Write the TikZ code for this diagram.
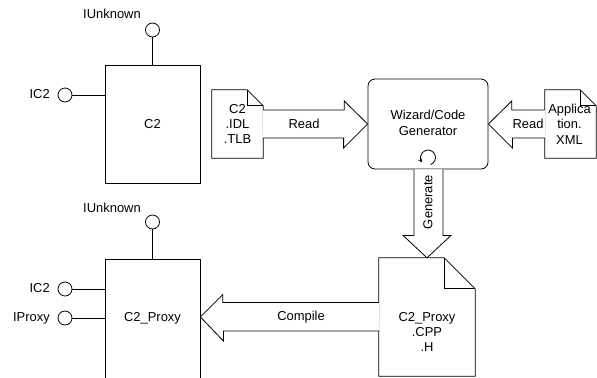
\documentclass[tikz,border=0pt]{standalone}
\usepackage{fontspec}
\setmainfont{Liberation Sans}
\usetikzlibrary{calc}
\begin{document}
\begin{tikzpicture}[x=1bp,y=-1bp,
  font=\fontsize{13}{15.5}\selectfont,
  line/.style={draw=black, line width=0.8bp},
  comp/.style={line, rectangle, minimum width=95bp, minimum height=118bp, inner sep=0},
  lolli/.style={line, circle, minimum size=14bp, inner sep=0},
  docbox/.style={rectangle, inner sep=0},
  blockarrow/.style={line, fill=white, line join=miter},
  lbl/.style={inner sep=0, align=center}]
\useasboundingbox (0,0) rectangle (597,377);
\clip (0,0) rectangle (597,377);

% --- component C2 with its interfaces
\node[comp] (c2) at (152.5,124) {C2};
\node[lolli] (c2u) at (152.5,30) {};
\node[lbl] (c2ulbl) at (112,14) {IUnknown};
\node[lolli] (c2i) at (65,95) {};
\node[lbl, anchor=east] (c2ilbl) at (50,94) {IC2};
\draw[line] (c2u) -- (c2u |- c2.north);
\draw[line] (c2i) -- (c2i -| c2.west);

% --- component C2_Proxy (runs past the lower edge)
\node[comp, minimum height=140bp] (c2p) at (152.5,329) {};
\node[lbl] (c2plbl) at (152.5,318) {C2\_Proxy};
\node[lolli] (c2pu) at (152.5,222) {};
\node[lbl] (c2pulbl) at (112,208) {IUnknown};
\node[lolli] (c2pi) at (65,289) {};
\node[lbl, anchor=east] (c2pilbl) at (50,288) {IC2};
\node[lolli] (c2pp) at (65,318) {};
\node[lbl, anchor=east] (c2pplbl) at (50,318) {IProxy};
\draw[line] (c2pu) -- (c2pu |- c2p.north);
\draw[line] (c2pi) -- (c2pi -| c2p.west);
\draw[line] (c2pp) -- (c2pp -| c2p.west);

% --- generator
\node[line, rectangle, rounded corners=7bp, minimum width=120bp, minimum height=90bp,
      inner sep=0] (wiz) at (428,124) {};
\node[lbl] (wizlbl) at (428,123) {Wizard/Code\\Generator};
\draw[line, ->, >={stealth}] (428,157.5) ++(70:7.5) arc[start angle=70, end angle=-220, radius=7.5];

% --- documents (outline with folded corner)
\node[docbox, minimum width=51bp, minimum height=68bp] (doc1) at (237.5,124) {};
\node[docbox, minimum width=51bp, minimum height=68bp] (doc2) at (570.5,124) {};
\node[docbox, minimum width=96bp, minimum height=118bp] (doc3) at (427,317) {};
\foreach \d/\f in {doc1/16, doc2/16, doc3/31}{
  \draw[line, fill=white] (\d.north west) -- ([xshift=-\f bp]\d.north east)
     -- ([yshift=-\f bp]\d.north east) -- (\d.south east) -- (\d.south west) -- cycle;
  \draw[line] ([xshift=-\f bp]\d.north east) -- ([xshift=-\f bp,yshift=-\f bp]\d.north east)
     -- ([yshift=-\f bp]\d.north east);
}
\node[lbl] (doc1lbl) at (doc1) {C2\\.IDL\\.TLB};
\node[lbl] (doc2lbl) at ([xshift=-1bp]doc2.center) {Applica\\tion.\\XML};
\node[lbl] (doc3lbl) at (427,332) {C2\_Proxy\\.CPP\\.H};

% --- block arrows
\draw[blockarrow] ([yshift=14bp]doc1.east) -- ++(81,0) -- ++(0,-9) -- (wiz.west)
   -- ++(-24,24) -- ++(0,-10) -- ++(-81,0);
\node[lbl] (read1) at (304,124) {Read};

\draw[blockarrow] ([yshift=14bp]doc2.west) -- ++(-33,0) -- ++(0,-9) -- (wiz.east)
   -- ++(24,24) -- ++(0,-10) -- ++(33,0);
\node[lbl] (read2) at (528,124) {Read};

\draw[blockarrow] ($(wiz.south)+(-14,0)$) -- ++(0,66) -- ++(-11,0) -- (doc3.north)
   -- ($(wiz.south)+(23,66)$) -- ($(wiz.south)+(15,66)$) -- ($(wiz.south)+(15,0)$);
\node[lbl, rotate=90] (gen) at (428,202) {Generate};

\coordinate (cptip) at (c2p.east |- doc3.west);
\draw[blockarrow] ([yshift=14.5bp]doc3.west) -- ++(-156,0) -- ++(0,-8) -- (cptip)
   -- ++(23,24) -- ++(0,-10) -- ++(156,0);
\node[lbl] (comp) at (301,317) {Compile};
\end{tikzpicture}
\end{document}
